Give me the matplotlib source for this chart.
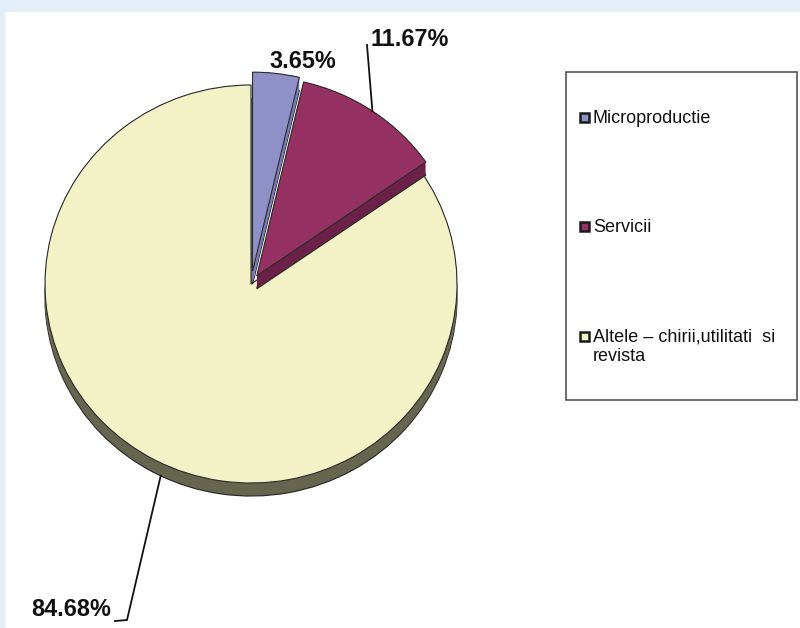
import numpy as np
import matplotlib
matplotlib.use('Agg')
import matplotlib.pyplot as plt
from matplotlib.patches import Rectangle
from matplotlib.lines import Line2D
from matplotlib.transforms import IdentityTransform

plt.rcParams['font.family'] = ['Liberation Sans', 'DejaVu Sans']

# Structura cheltuielilor
categories = ['Microproductie', 'Servicii', 'Altele – chirii,utilitati  si\nrevista']
shares = [3.65, 11.67, 84.68]
top_colors = ['#9090c8', '#963263', '#f2f2c6']
side_colors = ['#7a7ab4', '#6c2148', '#66664e']
explode = [0.065, 0.05, 0]

W, H = 800, 628


def px(x, y):
    # coordonate de imagine (y in jos) -> pixeli de figura
    return x, H - y


fig = plt.figure(figsize=(8, 6.28), dpi=100, facecolor='#e4eef9')
fig.patches.append(Rectangle((5 / W, 0), 1, 1 - 12 / H, transform=fig.transFigure,
                             facecolor='white', edgecolor='none', zorder=-1))

# Plăcinta 3D: centru, raze si grosime in pixeli
cx, cy, rx, ry = 251, 284, 206, 199
top, bottom = 64, 504
ax = fig.add_axes([(cx - rx) / W, (H - bottom) / H, 2 * rx / W, (bottom - top) / H])
depth = 13 / ry

# grosimea (fata laterala) din straturi suprapuse
for k, off in enumerate(np.linspace(-depth, 0, 14)):
    lw = 0.9 if k == 0 else 0
    side, _ = ax.pie(shares, explode=explode, colors=side_colors, startangle=90,
                     counterclock=False, center=(0, off),
                     wedgeprops=dict(edgecolor='#2b2b2b', linewidth=lw))
    for i, w in enumerate(side):
        w.set_zorder(1 if i == 2 else 3)

wedges, _ = ax.pie(shares, explode=explode, colors=top_colors, startangle=90,
                   counterclock=False, wedgeprops=dict(edgecolor='#2b2b2b', linewidth=0.8))
for i, w in enumerate(wedges):
    w.set_zorder(2 if i == 2 else 4)

ax.set_aspect('auto')
ax.set_xlim(-1, 1)
ax.set_ylim(-(bottom - cy) / ry, (cy - top) / ry)
ax.axis('off')

labels = [f'{v:.2f}%' for v in shares]
lab_kw = dict(fontsize=16.8, fontweight='bold', color='#111111',
              transform=IdentityTransform())

# 3.65% - fara linie de legatura
fig.text(*px(303, 62), labels[0], ha='center', va='center', **lab_kw)

# 11.67% - linie din mijlocul feliei
w = wedges[1]
mid = np.deg2rad((w.theta1 + w.theta2) / 2)
a = ax.transData.transform((w.center[0] + np.cos(mid), w.center[1] + np.sin(mid)))
b = px(367, 45)
fig.add_artist(Line2D([a[0], b[0]], [a[1], b[1]], color='#111111', lw=1.3,
                      transform=IdentityTransform()))
fig.text(*px(370, 39), labels[1], ha='left', va='center', **lab_kw)

# 84.68% - linie de pe marginea de jos
ang = np.deg2rad(-116)
a = ax.transData.transform((np.cos(ang), np.sin(ang) - depth))
b = px(127, 620)
c = px(115, 621)
fig.add_artist(Line2D([a[0], b[0], c[0]], [a[1], b[1], c[1]], color='#111111', lw=1.3,
                      transform=IdentityTransform()))
fig.text(*px(111, 610), labels[2], ha='right', va='center', **lab_kw)

# Legenda
fig.patches.append(Rectangle(px(566, 400), 231, 328, transform=IdentityTransform(),
                             facecolor='white', edgecolor='#555555', linewidth=1.2, zorder=5))
for name, col, yc in zip(categories, top_colors, [117, 226, 336]):
    fig.patches.append(Rectangle(px(580, yc + 4.5), 9, 9, transform=IdentityTransform(),
                                 facecolor=col, edgecolor='#1a1a1a', linewidth=1.8, zorder=6))
    fig.text(*px(593, yc - 7), name, ha='left', va='top', fontsize=13, color='#111111',
             linespacing=1.15, transform=IdentityTransform(), zorder=6)

fig.savefig('out.png', dpi=100, facecolor=fig.get_facecolor())
